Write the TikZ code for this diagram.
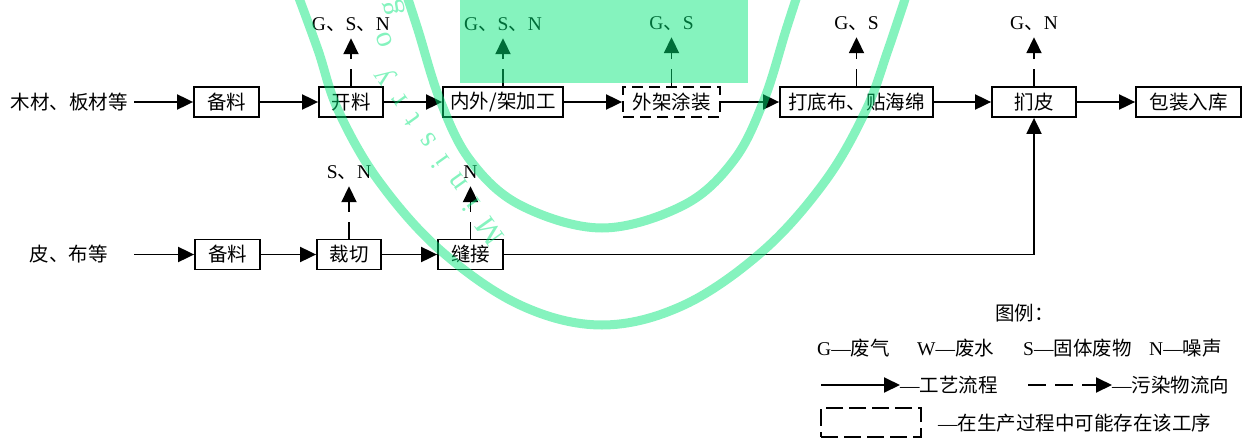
\documentclass[tikz,border=0pt]{standalone}
\usepackage{fontspec}
\setmainfont{Liberation Serif}
\newfontfamily\cjk{Noto Sans CJK SC}
\newfontfamily\wmfont[LetterSpace=50]{Liberation Serif}
\usetikzlibrary{arrows.meta}
\definecolor{wmgreen}{RGB}{0,230,120}
\newcommand\zdun{{\cjk 、}}
\newcommand\edash{{\rmfamily —}}
\begin{document}
\begin{tikzpicture}[x=1pt,y=-1pt, font=\fontsize{19.5}{22}\selectfont,
  box/.style={draw, line width=1.8pt, minimum height=30pt, inner sep=0pt, font=\fontsize{19.5}{22}\selectfont\cjk},
  flow/.style={line width=1.9pt, -{Triangle[length=16pt,width=15pt]}},
  pol/.style={flow, dash pattern=on 17pt off 10pt},
  lab/.style={inner sep=0pt, text height=13pt, text depth=8pt, anchor=base},
  txt/.style={inner sep=0pt, anchor=west, font=\fontsize{19.5}{22}\selectfont\cjk},
  wmline/.style={wmgreen, line width=9pt},
]
\useasboundingbox (0,0) rectangle (1247,439);

% top row
\node[anchor=east, inner xsep=6pt, inner ysep=0pt, font=\fontsize{19.5}{22}\selectfont\cjk] (in1) at (134,102) {木材、板材等};
\node[box, minimum width=65pt] (a1) at (226.5,102) {备料};
\node[box, minimum width=64pt] (a2) at (351,102) {开料};
\node[box, minimum width=120pt] (a3) at (503,102) {内外/架加工};
\node[box, minimum width=97pt, dash pattern=on 11pt off 6pt] (a4) at (671.5,102) {外架涂装};
\node[box, minimum width=153pt] (a5) at (856.5,102) {打底布、贴海绵};
\node[box, minimum width=84pt] (a6) at (1034,102) {扪皮};
\node[box, minimum width=105pt] (a7) at (1188.5,102) {包装入库};

\node[lab] (l2) at (a2 |- 0,30) {G\zdun S\zdun N};
\node[lab] (l3) at (a3 |- 0,30) {G\zdun S\zdun N};
\node[lab] (l4) at (a4 |- 0,29) {G\zdun S};
\node[lab] (l5) at (a5 |- 0,29) {G\zdun S};
\node[lab] (l6) at (a6 |- 0,29) {G\zdun N};

% bottom row
\node[anchor=east, inner xsep=26pt, inner ysep=0pt, font=\fontsize{19.5}{22}\selectfont\cjk] (in2) at (134,254.5) {皮、布等};
\node[box, minimum width=65pt] (b1) at (227.5,254.5) {备料};
\node[box, minimum width=64pt] (b2) at (349,254.5) {裁切};
\node[box, minimum width=65pt] (b3) at (470.5,254.5) {缝接};

\node[lab] (m2) at (b2 |- 0,178) {S\zdun N};
\node[lab] (m3) at (b3 |- 0,178) {N};

% process flow
\draw[flow] (in1) -- (a1);
\draw[flow] (a1) -- (a2);
\draw[flow] (a2) -- (a3);
\draw[flow] (a3) -- (a4);
\draw[flow] (a4) -- (a5);
\draw[flow] (a5) -- (a6);
\draw[flow] (a6) -- (a7);
\draw[flow] (in2) -- (b1);
\draw[flow] (b1) -- (b2);
\draw[flow] (b2) -- (b3);
\draw[flow] (b3) -| (a6);

% pollutant flows
\draw[pol] (a2) -- (l2);
\draw[pol] (a3) -- (l3);
\draw[pol] (a4) -- (l4);
\draw[pol] (a5) -- (l5);
\draw[pol] (a6) -- (l6);
\draw[pol] (b2) -- (m2);
\draw[pol] (b3) -- (m3);

% legend
\node[txt] (lg0) at (995,313) {图例：};
\node[txt, font=\fontsize{19.5}{22}\selectfont] (lgG) at (817,348) {G—{\cjk 废气}};
\node[txt, font=\fontsize{19.5}{22}\selectfont] (lgW) at (917,348) {W—{\cjk 废水}};
\node[txt, font=\fontsize{19.5}{22}\selectfont] (lgS) at (1023,348) {S—{\cjk 固体废物}};
\node[txt, font=\fontsize{19.5}{22}\selectfont] (lgN) at (1149,348) {N—{\cjk 噪声}};
\coordinate (lgs1) at (821,385);
\node[txt] (lgt1) at (900,385) {\edash 工艺流程};
\draw[flow] (lgs1) -- (lgt1);
\coordinate (lgs2) at (1028,385);
\node[txt] (lgt2) at (1112,385) {\edash 污染物流向};
\draw[flow, dash pattern=on 18pt off 9pt] (lgs2) -- (lgt2);
\node[draw, line width=1.8pt, dash pattern=on 17pt off 6pt, minimum width=100pt, minimum height=29pt, inner sep=0pt] (lgb) at (871,422.5) {};
\node[txt] (lgt3) at (938,423) {\edash 在生产过程中可能存在该工序};

% watermark overlay
\begin{scope}[opacity=0.48]
\fill[wmgreen] (460,0) rectangle (748,83);
\draw[wmline] plot[smooth, tension=0.6] coordinates {(296,-10) (318,50) (338,110) (378,180) (440,250) (520,305) (602,325) (684,305) (764,250) (826,180) (866,110) (888,50) (908,-10)};
\draw[wmline] plot[smooth, tension=0.6] coordinates {(405,-10) (418,30) (440,100) (470,160) (520,205) (602,228) (684,205) (734,160) (764,100) (786,30) (799,-10)};
\node[wmgreen, rotate=125.5, inner sep=0pt, font=\fontsize{30}{30}\wmfont] (wm1) at (440,156) {Ministry};
\node[wmgreen, rotate=110, inner sep=0pt, font=\fontsize{30}{30}\selectfont] (wm2) at (384,40) {o};
\node[wmgreen, rotate=100, inner sep=0pt, font=\fontsize{30}{30}\selectfont] (wm3) at (394,8) {g};
\end{scope}
\end{tikzpicture}
\end{document}
